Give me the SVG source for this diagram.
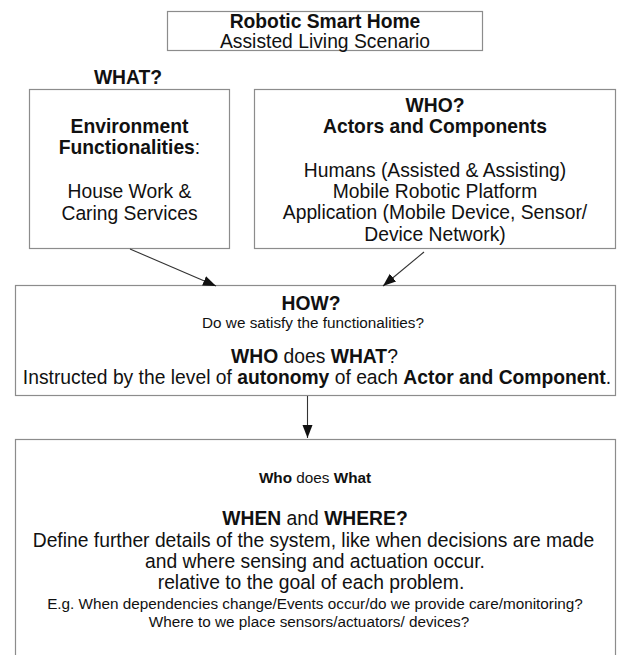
<svg xmlns="http://www.w3.org/2000/svg" width="617" height="655" viewBox="0 0 617 655">
<defs>
<marker id="ah" markerUnits="userSpaceOnUse" markerWidth="14" markerHeight="12" refX="13" refY="5" orient="auto">
<path d="M0,0 L13,5 L0,10 Z" fill="#111"/>
</marker>
<style>
.box{fill:#fff;stroke:#8c8c8c;stroke-width:1.2}
.t{font-family:"Liberation Sans",Arial,sans-serif;fill:#111;text-anchor:middle}
.l{font-size:19.3px}
.s{font-size:15.3px}
.b{font-weight:bold}
.c{stroke:#333;stroke-width:1.1;fill:none;marker-end:url(#ah)}
</style>
</defs>
<rect width="617" height="655" fill="#fff"/>
<g id="title">
<rect class="box" x="167.5" y="11.5" width="315" height="39"/>
<text class="t l b" x="325" y="27.5">Robotic Smart Home</text>
<text class="t l" x="325" y="48">Assisted Living Scenario</text>
</g>
<g id="what-label">
<text class="t l b" x="128" y="84">WHAT?</text>
</g>
<g id="what">
<rect class="box" x="29.5" y="89.5" width="200" height="159"/>
<text class="t l b" x="129.5" y="133">Environment</text>
<text class="t l" x="129.5" y="154"><tspan font-weight="bold">Functionalities</tspan>:</text>
<text class="t l" x="129.5" y="198">House Work &amp;</text>
<text class="t l" x="129.5" y="220">Caring Services</text>
</g>
<g id="who">
<rect class="box" x="254.5" y="89.5" width="361" height="159"/>
<text class="t l b" x="435" y="112">WHO?</text>
<text class="t l b" x="435" y="133">Actors and Components</text>
<text class="t l" x="435" y="177">Humans (Assisted &amp; Assisting)</text>
<text class="t l" x="435" y="198">Mobile Robotic Platform</text>
<text class="t l" x="435" y="219">Application (Mobile Device, Sensor/</text>
<text class="t l" x="435" y="241">Device Network)</text>
</g>
<g id="how">
<rect class="box" x="15.5" y="285.5" width="600" height="110"/>
<text class="t l b" x="311" y="310">HOW?</text>
<text class="t s" x="313" y="328">Do we satisfy the functionalities?</text>
<text class="t l" x="314.5" y="363"><tspan font-weight="bold">WHO</tspan> does <tspan font-weight="bold">WHAT</tspan>?</text>
<text class="t l" x="317" y="384">Instructed by the level of <tspan font-weight="bold">autonomy</tspan> of each <tspan font-weight="bold">Actor and Component</tspan>.</text>
</g>
<g id="when">
<rect class="box" x="15.5" y="439.5" width="600" height="240"/>
<text class="t s" x="315" y="483"><tspan font-weight="bold">Who</tspan> does <tspan font-weight="bold">What</tspan></text>
<text class="t l" x="315" y="525"><tspan font-weight="bold">WHEN</tspan> and <tspan font-weight="bold">WHERE?</tspan></text>
<text class="t l" x="313.5" y="547">Define further details of the system, like when decisions are made</text>
<text class="t l" x="315" y="568">and where sensing and actuation occur.</text>
<text class="t l" x="311" y="589">relative to the goal of each problem.</text>
<text class="t s" x="315" y="609">E.g. When dependencies change/Events occur/do we provide care/monitoring?</text>
<text class="t s" x="309" y="627">Where to we place sensors/actuators/ devices?</text>
</g>
<g id="connectors">
<line class="c" x1="130" y1="249" x2="216" y2="286"/>
<line class="c" x1="424" y1="252" x2="383" y2="286"/>
<line class="c" x1="307.5" y1="396" x2="307.5" y2="438"/>
</g>
</svg>
